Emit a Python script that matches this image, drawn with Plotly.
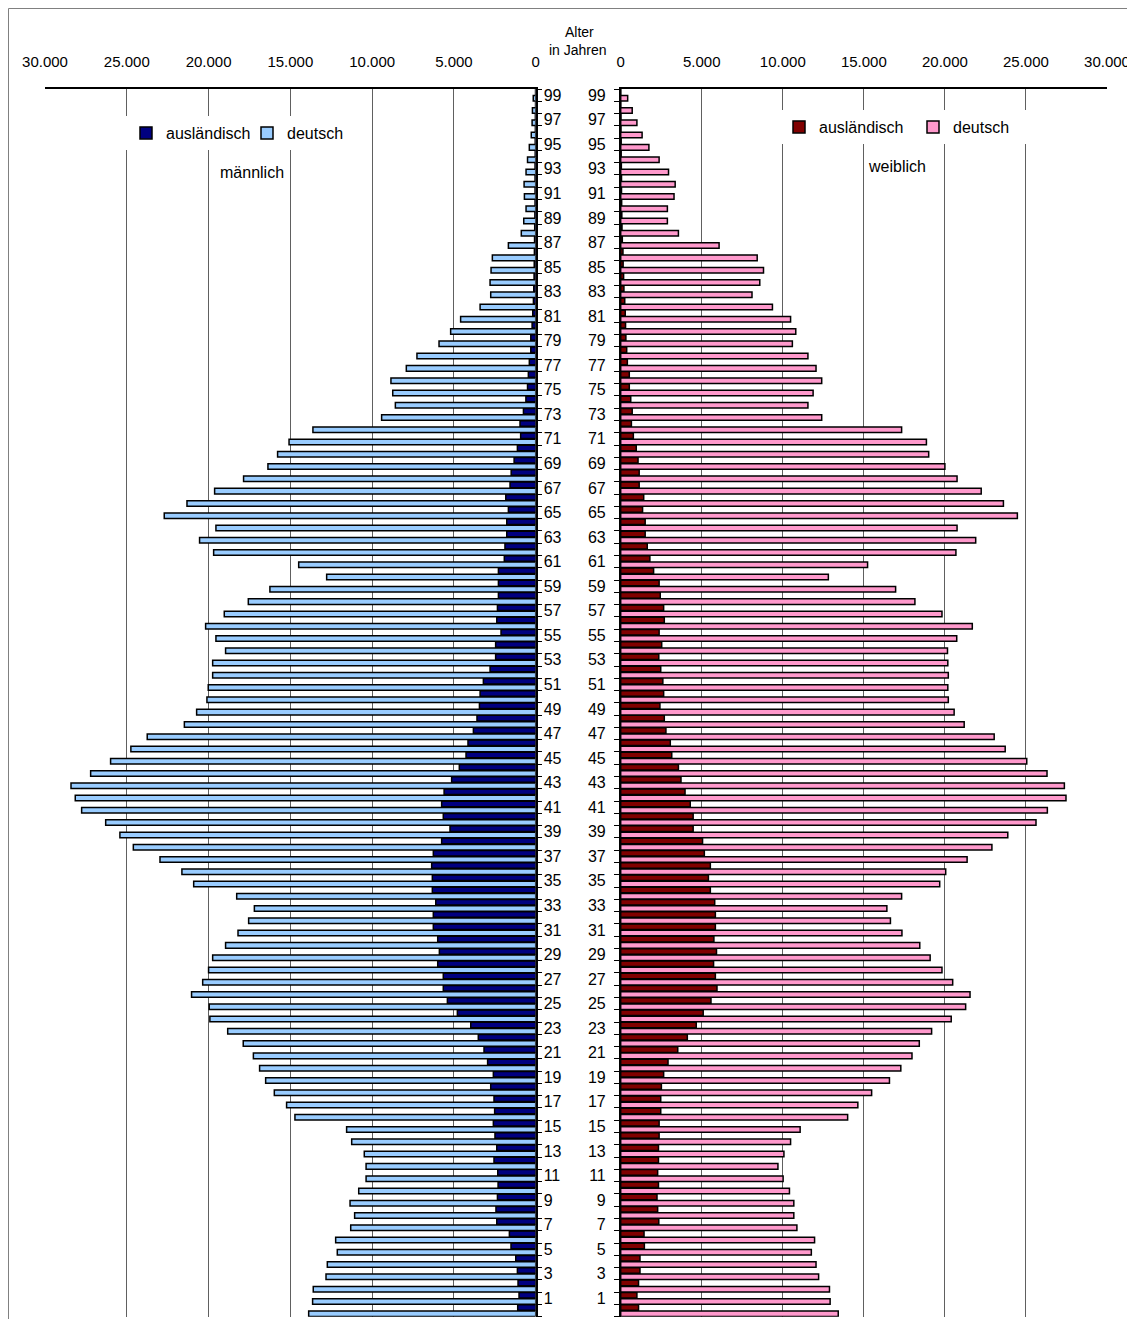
import plotly.graph_objects as go

ages = list(range(0, 100))

# Männlich (values per age 0..99)
male_deutsch = [
    13880, 13640, 13600, 12820, 12740, 12130, 12230, 11310, 11070, 11350,
    10820, 10370, 10370, 10480, 11250, 11560, 14720, 15230, 15980, 16510,
    16880, 17260, 17880, 18830, 19920, 19960, 21040, 20360, 20000, 19750,
    18960, 18200, 17550, 17200, 18280, 20910, 21630, 22970, 24600, 25420,
    26290, 27760, 28150, 28410, 27210, 25990, 24750, 23750, 21480, 20730,
    20100, 20020, 19750, 19750, 18960, 19550, 20180, 19040, 17570, 16250,
    12780, 14490, 19690, 20550, 19550, 22710, 21320, 19630, 17860, 16370,
    15780, 15080, 13620, 9420, 8580, 8740, 8850, 7910, 7260, 5910,
    5200, 4590, 3400, 2750, 2790, 2730, 2650, 1670, 880, 730,
    590, 690, 710, 590, 500, 390, 270, 220, 200, 150,
]
male_auslaendisch = [
    1100, 1020, 1080, 1120, 1220, 1510, 1610, 2380, 2430, 2340,
    2300, 2320, 2550, 2380, 2490, 2590, 2510, 2550, 2750, 2590,
    2940, 3160, 3510, 3970, 4790, 5400, 5650, 5650, 5990, 5890,
    5990, 6260, 6260, 6110, 6320, 6320, 6360, 6260, 5750, 5240,
    5650, 5750, 5600, 5140, 4670, 4260, 4140, 3810, 3590, 3440,
    3400, 3200, 2790, 2450, 2450, 2120, 2380, 2340, 2280, 2280,
    2280, 1920, 1880, 1770, 1770, 1670, 1830, 1570, 1500, 1320,
    1120, 920, 960, 750, 600, 500, 450, 390, 300, 300,
    220, 180, 140, 120, 100, 90, 80, 70, 60, 50,
    40, 40, 40, 40, 30, 30, 20, 20, 10, 10,
]

# Weiblich (values per age 0..99)
female_deutsch = [
    13420, 12920, 12880, 12210, 12050, 11760, 11960, 10870, 10680, 10680,
    10410, 10020, 9700, 10070, 10480, 11070, 14000, 14630, 15480, 16580,
    17280, 17970, 18420, 19180, 20390, 21280, 21550, 20480, 19820, 19090,
    18450, 17350, 16640, 16420, 17330, 19680, 20050, 21370, 22900, 23880,
    25620, 26320, 27470, 27370, 26300, 25050, 23720, 23040, 21190, 20570,
    20210, 20180, 20210, 20180, 20160, 20730, 21690, 19820, 18150, 16960,
    12810, 15230, 20680, 21900, 20750, 24470, 23610, 22240, 20750, 20000,
    19000, 18860, 17330, 12400, 11550, 11870, 12400, 12050, 11550, 10590,
    10800, 10480, 9360, 8100, 8580, 8810, 8420, 6070, 3560, 2880,
    2880, 3290, 3360, 2950, 2370, 1740, 1320, 1000, 710, 430,
]
female_auslaendisch = [
    1100, 1000, 1100, 1190, 1190, 1460, 1440, 2350, 2280, 2240,
    2330, 2280, 2330, 2330, 2370, 2370, 2470, 2470, 2510, 2650,
    2920, 3520, 4110, 4660, 5090, 5570, 5940, 5840, 5730, 5910,
    5750, 5840, 5840, 5800, 5530, 5410, 5530, 5160, 5050, 4470,
    4470, 4290, 3970, 3720, 3560, 3150, 3060, 2790, 2690, 2420,
    2650, 2600, 2470, 2350, 2530, 2370, 2690, 2650, 2440, 2370,
    2030, 1800, 1640, 1510, 1510, 1350, 1420, 1140, 1140, 1070,
    960, 780, 660, 710, 620, 530, 530, 410, 370, 320,
    300, 280, 250, 200, 180, 150, 140, 100, 80, 70,
    60, 50, 50, 40, 30, 30, 20, 20, 10, 10,
]

x_tickvals = [0, 5000, 10000, 15000, 20000, 25000, 30000]
x_ticktext = ["0", "5.000", "10.000", "15.000", "20.000", "25.000", "30.000"]
age_labels = list(range(1, 100, 2))

FONT = "Liberation Sans, Arial, sans-serif"

# The page body adds an 8px offset; work in page pixels and convert.
OFF = 8
W, H = 1135 - OFF, 1319 - OFF


def px(x):
    return (x - OFF) / W


def py(y):
    return 1 - (y - OFF) / H


C_M_AUS = "#000080"
C_M_DE = "#99CCFF"
C_F_AUS = "#800000"
C_F_DE = "#FF99CC"
LINE = dict(color="black", width=1.5)

fig = go.Figure()
fig.add_trace(go.Bar(name="ausländisch", x=male_auslaendisch, y=ages, orientation="h",
                     marker=dict(color=C_M_AUS, line=LINE), offset=0.03, width=0.45,
                     xaxis="x", yaxis="y", legend="legend", legendrank=1))
fig.add_trace(go.Bar(name="deutsch", x=male_deutsch, y=ages, orientation="h",
                     marker=dict(color=C_M_DE, line=LINE), offset=-0.48, width=0.45,
                     xaxis="x", yaxis="y", legend="legend", legendrank=2))
fig.add_trace(go.Bar(name="ausländisch", x=female_auslaendisch, y=ages, orientation="h",
                     marker=dict(color=C_F_AUS, line=LINE), offset=0.03, width=0.45,
                     xaxis="x2", yaxis="y2", legend="legend2", legendrank=1))
fig.add_trace(go.Bar(name="deutsch", x=female_deutsch, y=ages, orientation="h",
                     marker=dict(color=C_F_DE, line=LINE), offset=-0.48, width=0.45,
                     xaxis="x2", yaxis="y2", legend="legend2", legendrank=2))

ydom = [py(1316.7), py(89)]

xaxis_common = dict(
    side="top", tickvals=x_tickvals, ticktext=x_ticktext, showgrid=True,
    gridcolor="#606060", gridwidth=1, zeroline=False, showline=True,
    linecolor="black", linewidth=1.5, ticks="", ticklabelstandoff=14,
    tickfont=dict(family=FONT, size=15, color="black"), fixedrange=True,
    automargin=False,
)
yaxis_common = dict(
    range=[-0.5, 99.5], tickmode="array", tickvals=age_labels,
    ticktext=[str(a) for a in age_labels], ticks="", showgrid=False,
    zeroline=False, showline=True, linecolor="black", linewidth=1.5,
    tickfont=dict(family=FONT, size=16, color="black"),
    minor=dict(ticks="outside", tickmode="linear", tick0=0.5, dtick=1,
               ticklen=5, tickwidth=1, tickcolor="black", showgrid=False),
    fixedrange=True, automargin=False,
)

legend_common = dict(
    xanchor="left", yanchor="top", orientation="h", bgcolor="white",
    borderwidth=0, font=dict(family=FONT, size=16, color="black"),
    itemwidth=30, tracegroupgap=0, entrywidthmode="pixels",
)

fig.update_layout(
    width=W, height=H,
    margin=dict(l=0, r=0, t=0, b=0, pad=0, autoexpand=False),
    paper_bgcolor="white", plot_bgcolor="white",
    barmode="overlay",
    font=dict(family=FONT, color="black"),
    xaxis=dict(domain=[px(45), px(535.7)], range=[30000, 0], anchor="y", **xaxis_common),
    xaxis2=dict(domain=[px(620.7), px(1107)], range=[0, 30000], anchor="y2", **xaxis_common),
    yaxis=dict(domain=ydom, anchor="x", side="right", ticklabelstandoff=3, **yaxis_common),
    yaxis2=dict(domain=ydom, anchor="x2", side="left", ticklabelstandoff=10, **yaxis_common),
    legend=dict(x=px(126), y=py(116), entrywidth=76, **legend_common),
    legend2=dict(x=px(779), y=py(110), entrywidth=89, **legend_common),
    showlegend=True,
)

annots = [
    ("Alter", 579, 32, 14),
    ("in Jahren", 578, 50, 14),
    ("männlich", 252, 172, 16),
    ("weiblich", 897, 167, 16),
]
for text, ax, ay, size in annots:
    fig.add_annotation(text=text, x=px(ax), y=py(ay), xref="paper", yref="paper",
                       showarrow=False, xanchor="center", yanchor="middle",
                       font=dict(family=FONT, size=size, color="black"))

fig.add_shape(type="rect", xref="paper", yref="paper",
              x0=px(8.5), x1=px(1129), y0=-0.05, y1=py(8.5),
              line=dict(color="#808080", width=1), fillcolor="rgba(0,0,0,0)", layer="below")

fig.write_html("out.html")
